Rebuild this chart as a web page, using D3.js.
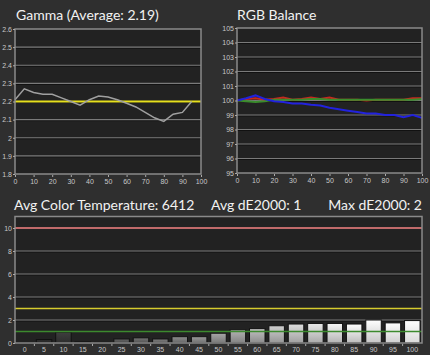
<!DOCTYPE html>
<html>
<head>
<meta charset="utf-8">
<script src="https://cdn.jsdelivr.net/npm/d3@7"></script>
<style>
  html, body { margin: 0; padding: 0; background: #2f2f2f; }
  svg { display: block; }
  .title { fill: #f2f2f2; font-family: Lato, "Open Sans", sans-serif; font-size: 14px; }
  .tick text { fill: #c8c8c8; font-family: "Liberation Sans", sans-serif; font-size: 7px; }
</style>
</head>
<body>
<svg id="chart" width="430" height="355"></svg>
<script>
// gamma measurements
const gammaX = [0, 5, 10, 15, 20, 25, 30, 35, 40, 45, 50, 55, 60, 65, 70, 75, 80, 85, 90, 95]
const gammaY = [2.21, 2.27, 2.25, 2.24, 2.24, 2.22, 2.20, 2.18, 2.21, 2.23, 2.225, 2.21, 2.19, 2.17, 2.14, 2.11, 2.09, 2.13, 2.14, 2.20]
const gammaTarget = 2.2

// rgb balance
const rgbX = [0, 5, 10, 15, 20, 25, 30, 35, 40, 45, 50, 55, 60, 65, 70, 75, 80, 85, 90, 95, 100]
const redY = [100, 100.1, 100.15, 100.05, 100.1, 100.2, 100.05, 100.1, 100.2, 100.1, 100.2, 100.05, 100.05, 100.05, 100.0, 100.05, 100.05, 100.05, 100.05, 100.15, 100.15]
const greenY = [100, 99.95, 99.9, 99.95, 100.05, 100.05, 100.05, 100.05, 100.1, 100.1, 100.05, 100.05, 100.05, 100.05, 100.05, 100.05, 100.05, 100.05, 100.05, 100.05, 100.1]
const blueY = [100, 100.15, 100.35, 100.1, 99.95, 99.9, 99.8, 99.8, 99.7, 99.65, 99.5, 99.4, 99.3, 99.2, 99.1, 99.1, 99.0, 99.0, 98.85, 99.0, 98.8]

// dE2000 per grey level
const levels = ['0', '5', '10', '15', '20', '25', '30', '35', '40', '45', '50', '55', '60', '65', '70', '75', '80', '85', '90', '95', '100']
const dE = [0.02, 0.3, 0.95, 0.1, 0.05, 0.35, 0.45, 0.35, 0.55, 0.55, 0.85, 1.15, 1.25, 1.5, 1.65, 1.7, 1.7, 1.65, 2.0, 1.75, 1.95]
const dELimits = [10, 3, 1]

const svg = d3.select('#chart')

const defs = svg.append('defs')
levels.forEach(function (l, i) {
  let g = defs.append('linearGradient')
    .attr('id', 'bar' + i).attr('x1', 0).attr('x2', 0).attr('y1', 0).attr('y2', 1)
  let v = 30 + i * 11
  let c = d3.rgb(v, v, v)
  g.append('stop').attr('offset', '0%').attr('stop-color', c.brighter(0.5))
  g.append('stop').attr('offset', '100%').attr('stop-color', c.darker(0.4))
})

function panel (x0, x1, y0, y1) {
  svg.append('rect')
    .attr('x', x0).attr('y', y0)
    .attr('width', x1 - x0).attr('height', y1 - y0)
    .attr('fill', '#222')
}

function grid (g, y, ticks, x0, x1) {
  g.selectAll('.gl')
    .data(ticks)
    .enter().append('line')
    .attr('x1', x0).attr('x2', x1)
    .attr('y1', d => y(d) + 1).attr('y2', d => y(d) + 1)
    .attr('stroke', '#111').attr('stroke-width', 1)
  g.selectAll('.gl2')
    .data(ticks)
    .enter().append('line')
    .attr('x1', x0).attr('x2', x1)
    .attr('y1', d => y(d)).attr('y2', d => y(d))
    .attr('stroke', '#7a7a7a').attr('stroke-width', 1.2)
}

function border (x0, x1, y0, y1) {
  svg.append('rect')
    .attr('x', x0).attr('y', y0)
    .attr('width', x1 - x0).attr('height', y1 - y0)
    .attr('fill', 'none').attr('stroke', '#8a8a8a').attr('stroke-width', 1.5)
}

function styleAxis (g) {
  g.select('.domain').remove()
  g.selectAll('.tick line').attr('stroke', '#aaa')
}

// ---- Gamma ----
let gx = d3.scaleLinear().domain([0, 100]).range([15, 201])
let gy = d3.scaleLinear().domain([1.8, 2.6]).range([174, 29])
panel(15, 201, 29, 174)
let gTicks = d3.range(1.8, 2.61, 0.1).map(d => +d.toFixed(1))
grid(svg.append('g'), gy, gTicks.slice(1, -1), 15, 201)
svg.append('line')
  .attr('x1', gx(0)).attr('x2', gx(100))
  .attr('y1', gy(gammaTarget)).attr('y2', gy(gammaTarget))
  .attr('stroke', '#e6e01e').attr('stroke-width', 2.2)
svg.append('path')
  .datum(gammaX.map((x, i) => [x, gammaY[i]]))
  .attr('fill', 'none').attr('stroke', '#a0a0a0').attr('stroke-width', 1.5)
  .attr('d', d3.line().x(d => gx(d[0])).y(d => gy(d[1])))
border(15, 201, 29, 174)
svg.append('g').attr('transform', 'translate(15,0)')
  .call(d3.axisLeft(gy).tickValues(gTicks).tickSize(2).tickPadding(1).tickFormat(d => String(d)))
  .call(styleAxis)
svg.append('g').attr('transform', 'translate(0,175)')
  .call(d3.axisBottom(gx).tickValues(d3.range(0, 101, 10)).tickSize(2).tickPadding(2))
  .call(styleAxis)
svg.append('text').attr('class', 'title').attr('x', 16).attr('y', 20).text('Gamma (Average: 2.19)')

// ---- RGB Balance ----
let rx = d3.scaleLinear().domain([0, 100]).range([237, 422])
let ry = d3.scaleLinear().domain([95, 105]).range([173, 28])
panel(237, 422, 28, 173)
let rTicks = d3.range(95, 106)
grid(svg.append('g'), ry, rTicks.slice(1, -1), 237, 422)
let rline = d3.line().x((d, i) => rx(rgbX[i])).y(d => ry(d))
;[[redY, '#c8281e'], [greenY, '#3a8c2c'], [blueY, '#2222dd']].forEach(function (s) {
  svg.append('path').datum(s[0])
    .attr('fill', 'none').attr('stroke', s[1]).attr('stroke-width', 2)
    .attr('d', rline)
})
border(237, 422, 28, 173)
svg.append('g').attr('transform', 'translate(237,0)')
  .call(d3.axisLeft(ry).tickValues(rTicks).tickSize(2).tickPadding(1))
  .call(styleAxis)
svg.append('g').attr('transform', 'translate(0,174)')
  .call(d3.axisBottom(rx).tickValues(d3.range(0, 101, 10)).tickSize(2).tickPadding(2))
  .call(styleAxis)
svg.append('text').attr('class', 'title').attr('x', 237).attr('y', 20).text('RGB Balance')

// ---- dE2000 ----
let bx = d3.scaleBand().domain(levels).range([15, 422]).paddingInner(0.2).paddingOuter(0.1)
let by = d3.scaleLinear().domain([0, 11]).range([343, 216.5])
panel(15, 422, 216.5, 343)
grid(svg.append('g'), by, [2, 4, 6, 8], 15, 422)
svg.selectAll('.bar')
  .data(dE)
  .enter().append('rect')
  .attr('x', (d, i) => bx(levels[i]))
  .attr('y', d => by(d))
  .attr('width', bx.bandwidth())
  .attr('height', d => by(0) - by(d))
  .attr('fill', (d, i) => 'url(#bar' + i + ')')
  .attr('stroke', '#111').attr('stroke-width', 1)
let limitColors = ['#c06a6a', '#d6cc2e', '#3c8a2e']
svg.selectAll('.limit')
  .data(dELimits)
  .enter().append('line')
  .attr('x1', 15).attr('x2', 422)
  .attr('y1', d => by(d)).attr('y2', d => by(d))
  .attr('stroke', (d, i) => limitColors[i])
  .attr('stroke-width', (d, i) => i === 0 ? 2 : 1.3)
border(15, 422, 216.5, 343)
svg.append('g').attr('transform', 'translate(15,0)')
  .call(d3.axisLeft(by).tickValues([0, 2, 4, 6, 8, 10]).tickSize(2).tickPadding(1))
  .call(styleAxis)
svg.append('g').attr('transform', 'translate(0,344)')
  .call(d3.axisBottom(bx).tickSize(0).tickPadding(3))
  .call(styleAxis)
svg.selectAll('.sep')
  .data(levels.slice(1))
  .enter().append('line')
  .attr('x1', d => bx(d) - bx.step() * 0.1).attr('x2', d => bx(d) - bx.step() * 0.1)
  .attr('y1', 344).attr('y2', 346)
  .attr('stroke', '#aaa')
svg.append('text').attr('class', 'title').attr('x', 14).attr('y', 210).text('Avg Color Temperature: 6412')
svg.append('text').attr('class', 'title').attr('x', 211).attr('y', 210).text('Avg dE2000: 1')
svg.append('text').attr('class', 'title').attr('x', 422).attr('y', 210)
  .attr('text-anchor', 'end').text('Max dE2000: 2')
</script>
</body>
</html>
